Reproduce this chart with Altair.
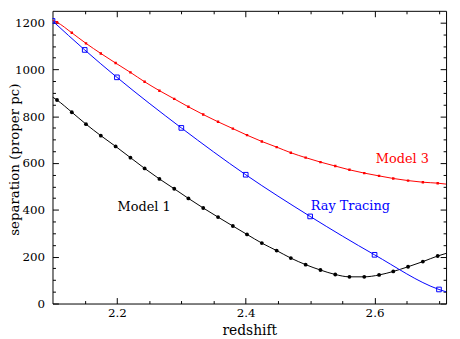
import altair as alt
import pandas as pd

FONT = "DejaVu Serif"

# redshift positions of the model markers
z_model = [2.107, 2.130, 2.152, 2.175, 2.198, 2.221, 2.243, 2.266, 2.289, 2.311,
           2.334, 2.357, 2.380, 2.402, 2.425, 2.448, 2.470, 2.493, 2.516, 2.539,
           2.561, 2.584, 2.607, 2.629, 2.652, 2.675, 2.698]
model1 = [869, 817, 766, 717, 671, 623, 577, 532, 490, 449,
          408, 369, 331, 295, 258, 226, 194, 166, 143, 124,
          114, 114, 122, 137, 157, 179, 203]
model3 = [1201, 1156, 1111, 1068, 1027, 987, 947, 909, 874, 840,
          807, 776, 747, 719, 692, 668, 644, 623, 604, 587,
          571, 557, 545, 534, 525, 518, 514]

# ray tracing markers
z_ray = [2.1, 2.15, 2.2, 2.3, 2.4, 2.5, 2.6, 2.7]
ray = [1207, 1083, 966, 750, 550, 372, 208, 60]

# curve values where the curves meet the frame edges
z_left, z_right = 2.1, 2.711
model1_left, model1_right = 882, 214
model3_left, model3_right = 1210, 510
ray_right = 50

# annotations
labels = ["Model 1", "Ray Tracing", "Model 3"]
label_z = [2.201, 2.501, 2.602]
label_sep = [395, 399, 598]
label_colors = ["black", "#0000ff", "#ff0000"]

x_major = [2.2, 2.4, 2.6]
x_minor = [2.15, 2.25, 2.3, 2.35, 2.45, 2.5, 2.55, 2.65, 2.7]
y_major = [0, 200, 400, 600, 800, 1000, 1200]
y_minor = [50, 100, 150, 250, 300, 350, 450, 500, 550, 650, 700, 750,
           850, 900, 950, 1050, 1100, 1150]

pts = pd.DataFrame({"z": z_model, "m1": model1, "m3": model3})
m1_line = pd.DataFrame({"z": [z_left] + z_model + [z_right],
                        "s": [model1_left] + model1 + [model1_right]})
m3_line = pd.DataFrame({"z": [z_left] + z_model + [z_right],
                        "s": [model3_left] + model3 + [model3_right]})
ray_pts = pd.DataFrame({"z": z_ray, "s": ray})
ray_line = pd.DataFrame({"z": z_ray + [z_right], "s": ray + [ray_right]})

xs = alt.Scale(domain=[2.1, 2.711], nice=False, zero=False)
ys = alt.Scale(domain=[0, 1250], nice=False, zero=False)


def tick_axis(orient, values, size):
    return alt.Axis(orient=orient, values=values, tickSize=size, offset=-size,
                    ticks=True, labels=False, domain=False, grid=False,
                    title=None, tickColor="black", tickWidth=1)


x_label_axis = alt.Axis(orient="bottom", values=x_major, ticks=False, tickSize=0,
                        domain=False, grid=False, labelFont=FONT, labelFontSize=12,
                        labelColor="black", labelPadding=4, labelFlush=False,
                        format=".1f", title="redshift", titleFont=FONT,
                        titleFontSize=14, titleFontWeight="normal", titleColor="black",
                        titleX=199, titleY=31, titleBaseline="alphabetic",
                        titleAlign="center", titleAngle=0)
y_label_axis = alt.Axis(orient="left", values=y_major, ticks=False, tickSize=0,
                        domain=False, grid=False, labelFont=FONT, labelFontSize=12,
                        labelColor="black", labelPadding=8, labelFlush=False,
                        format="d", title="separation (proper pc)", titleFont=FONT,
                        titleFontSize=13.5, titleFontWeight="normal", titleColor="black",
                        titleX=-34, titleY=150, titleAngle=270,
                        titleBaseline="alphabetic", titleAlign="center")


def enc(xaxis, yaxis, field="s"):
    return dict(x=alt.X("z:Q", scale=xs, axis=xaxis),
                y=alt.Y(f"{field}:Q", scale=ys, axis=yaxis))


black_line = alt.Chart(m1_line).mark_line(
    color="black", strokeWidth=1, interpolate="monotone", clip=True
).encode(**enc(x_label_axis, y_label_axis))

black_pts = alt.Chart(pts).mark_point(
    shape="circle", filled=True, color="black", size=15, opacity=1, clip=True
).encode(**enc(tick_axis("bottom", x_major, 6), tick_axis("left", y_major, 6), "m1"))

red_line = alt.Chart(m3_line).mark_line(
    color="#ff0000", strokeWidth=1, interpolate="monotone", clip=True
).encode(**enc(tick_axis("bottom", x_minor, 3), tick_axis("left", y_minor, 3)))

red_pts = alt.Chart(pts).mark_point(
    shape="square", filled=True, color="#ff0000", size=6, opacity=1, clip=True
).encode(**enc(tick_axis("top", x_major, 6), tick_axis("right", y_major, 6), "m3"))

blue_line = alt.Chart(ray_line).mark_line(
    color="#0000ff", strokeWidth=1, interpolate="monotone", clip=True
).encode(**enc(tick_axis("top", x_minor, 3), tick_axis("right", y_minor, 3)))

blue_pts = alt.Chart(ray_pts).mark_point(
    shape="square", filled=False, color="#0000ff", size=22, strokeWidth=1,
    opacity=1, clip=True
).encode(**enc(None, None))

texts = []
for lab, zz, ss, col in zip(labels, label_z, label_sep, label_colors):
    df = pd.DataFrame({"z": [zz], "s": [ss], "t": [lab]})
    texts.append(
        alt.Chart(df).mark_text(align="left", baseline="alphabetic", font=FONT,
                                fontSize=13, color=col)
        .encode(x=alt.X("z:Q", scale=xs, axis=None),
                y=alt.Y("s:Q", scale=ys, axis=None), text="t:N")
    )

chart = alt.layer(
    black_line, black_pts, red_line, red_pts, blue_line, blue_pts, *texts
).resolve_axis(x="independent", y="independent").properties(
    width=398, height=296,
    autosize=alt.AutoSizeParams(type="none"),
    padding={"left": 45, "top": 1, "right": 6, "bottom": 32},
    background="white",
).configure_view(stroke="black", strokeWidth=1)

chart.save("out.html", embed_options={"renderer": "svg", "actions": False})
